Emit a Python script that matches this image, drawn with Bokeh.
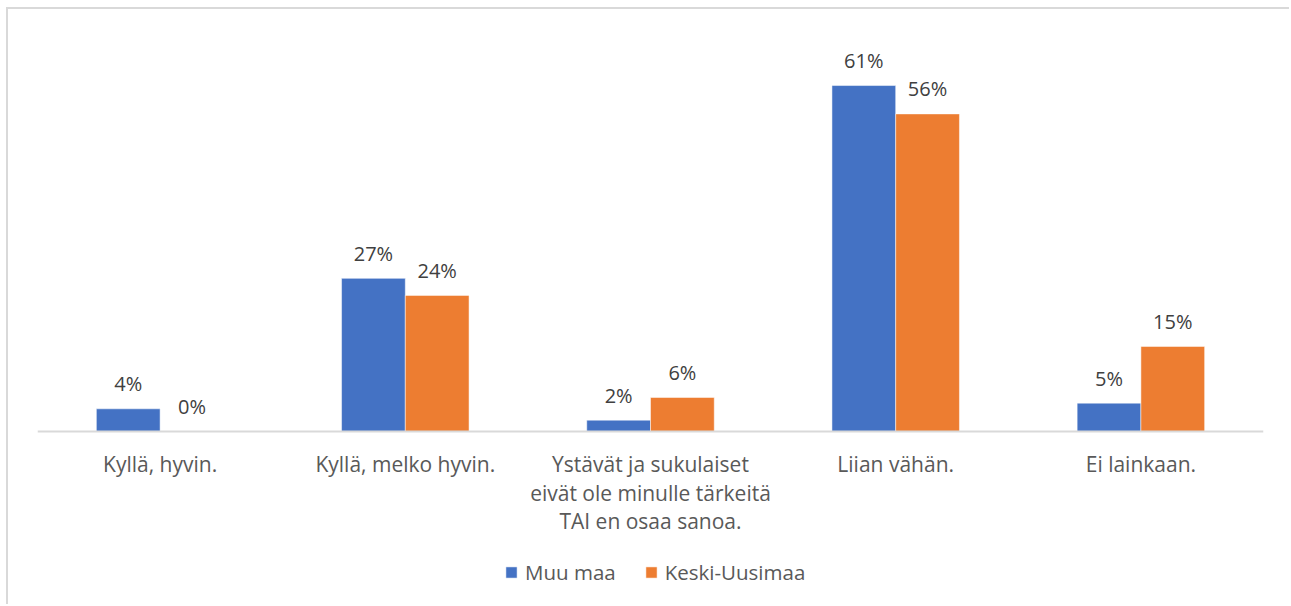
from bokeh.plotting import figure
from bokeh.models import ColumnDataSource, LabelSet, Legend, LegendItem, FactorRange, Span, Range1d
from bokeh.transform import dodge
from bokeh.core.properties import value
from bokeh.embed import file_html
from bokeh.resources import INLINE

categories = ["Kyllä, hyvin.", "Kyllä, melko hyvin.", "Ystävät ja sukulaiset\neivät ole minulle tärkeitä\nTAI en osaa sanoa.", "Liian vähän.", "Ei lainkaan."]
muu_maa = [4, 27, 2, 61, 5]
keski_uusimaa = [0, 24, 6, 56, 15]
series_names = ["Muu maa", "Keski-Uusimaa"]
colors = ["#4472C4", "#ED7D31"]

FONT = "Open Sans"
LINE_STEP = 28.5

src = ColumnDataSource(dict(
    cat=categories,
    a=muu_maa,
    b=keski_uusimaa,
    a_lab=[f"{v}%" for v in muu_maa],
    b_lab=[f"{v}%" for v in keski_uusimaa],
))

# one row per line of each category label, so every line is centred
lab_cat, lab_text, lab_off = [], [], []
for c in categories:
    for i, line in enumerate(c.split("\n")):
        lab_cat.append(c)
        lab_text.append(line)
        lab_off.append(-19 - i * LINE_STEP)
lab_src = ColumnDataSource(dict(cat=lab_cat, text=lab_text, off=lab_off))

# value axis 0..70 occupies the upper 397 px of the frame; the space below
# zero holds the category labels and the legend
p = figure(x_range=FactorRange(*categories), y_range=Range1d(-30.86, 70),
           width=1283, height=597, output_backend="svg", toolbar_location=None,
           min_border_left=29, min_border_right=28, min_border_top=25, min_border_bottom=0)
p.styles = {"border-left": "2px solid #d9d9d9", "border-top": "2px solid #d9d9d9",
            "margin-left": "6px", "margin-top": "7px"}
p.outline_line_color = None
p.grid.visible = False
p.axis.visible = False
p.x_range.range_padding = 0

r1 = p.vbar(x=dodge("cat", -0.13, range=p.x_range), top="a", width=0.26, source=src,
            fill_color=colors[0], line_color="white", line_width=0.5)
r2 = p.vbar(x=dodge("cat", 0.13, range=p.x_range), top="b", width=0.26, source=src,
            fill_color=colors[1], line_color="white", line_width=0.5)

# category axis baseline at zero
p.add_layout(Span(location=0, dimension="width", line_color="#d9d9d9", line_width=2))

for col, lab, off in (("a", "a_lab", -0.13), ("b", "b_lab", 0.13)):
    ls = LabelSet(x=dodge("cat", off, range=p.x_range), y=col, text=lab, source=src,
                  text_align="center", text_baseline="middle", y_offset=25,
                  text_font=value(FONT), text_font_size="20px", text_color="#404040")
    p.add_layout(ls)

# category tick labels
cat_labels = LabelSet(x="cat", y=0, text="text", source=lab_src, y_offset="off",
                      text_align="center", text_baseline="top",
                      text_font=value(FONT), text_font_size="21px", text_color="#595959",
                      text_line_height=1.0)
p.add_layout(cat_labels)

legend = Legend(items=[LegendItem(label=series_names[0], renderers=[r1]),
                       LegendItem(label=series_names[1], renderers=[r2])],
                orientation="horizontal", location=(467, 20),
                glyph_width=14, glyph_height=14, label_standoff=7, spacing=28,
                padding=0, margin=0, border_line_color=None, background_fill_alpha=0,
                label_text_font=FONT, label_text_font_size="20.5px", label_text_color="#595959",
                label_text_line_height=1.0)
p.add_layout(legend, "center")

open("out.html", "w").write(file_html(p, INLINE))
